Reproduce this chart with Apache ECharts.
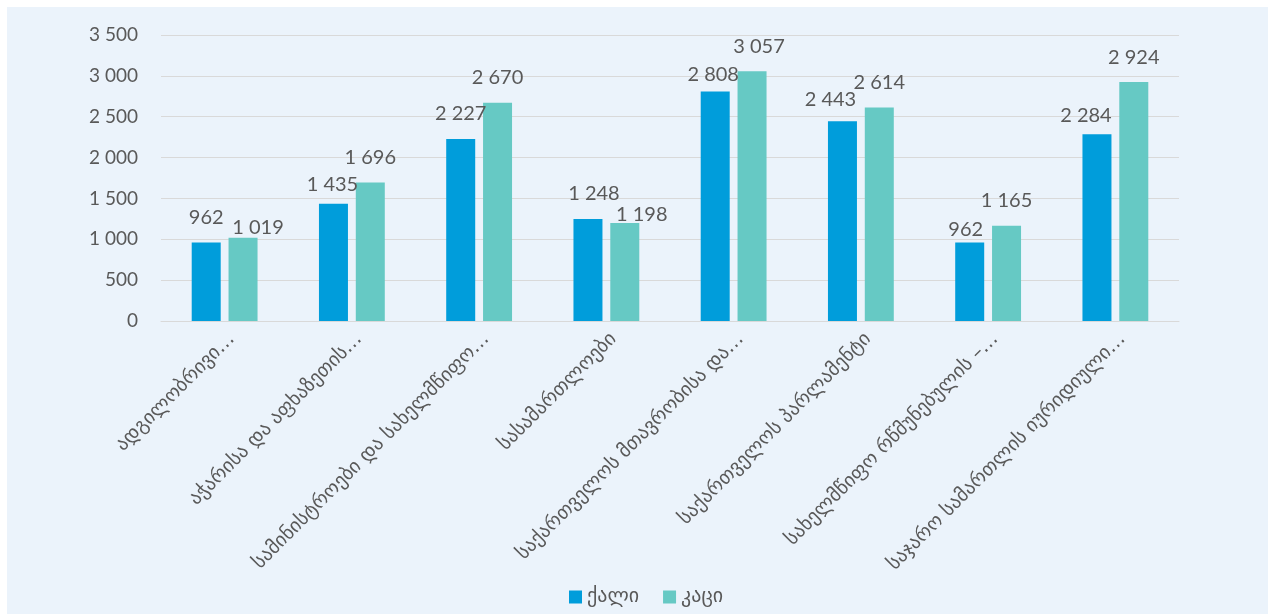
<!DOCTYPE html>
<html><head><meta charset="utf-8">
<script src="https://cdn.jsdelivr.net/npm/echarts@6/dist/echarts.min.js"></script>
<style>
html,body{margin:0;padding:0;background:#fff;}
#bg{position:absolute;left:7px;top:7px;width:1261px;height:607px;background:#EBF3FB;}
#c{position:absolute;left:0;top:0;width:1268px;height:614px;}
</style></head>
<body><div id="bg"></div><div id="c"></div>
<script>
const categories = ["ადგილობრივი…","აჭარისა და აფხაზეთის…","სამინისტროები და სახელმწიფო…","სასამართლოები","საქართველოს მთავრობისა და…","საქართველოს პარლამენტი","სახელმწიფო რწმუნებულის –…","საჯარო სამართლის იურიდიული…"];
const women = [962,1435,2227,1248,2808,2443,962,2284];
const men = [1019,1696,2670,1198,3057,2614,1165,2924];
const seriesNames = ["ქალი","კაცი"];
// manual label nudges (as in the source chart), [dx, dy] in px
const womenLabelNudge = [[0,0],[-1,6],[0,0],[6,0],[-2,8],[-12,3],[-4,12],[-11,6]];
const menLabelNudge = [[15,15],[0,0],[0,0],[17,16],[7,0],[0,0],[0,0],[0,0]];
const fmt = v => String(v).replace(/\B(?=(\d{3})+(?!\d))/g,' ');
const font = "Lato,'DejaVu Sans',sans-serif";
const withNudge = (vals, nudges) => vals.map((v,i)=>({value:v,label:{offset:nudges[i]}}));
const chart = echarts.init(document.getElementById('c'));
chart.setOption({
  backgroundColor:'transparent',
  textStyle:{fontFamily:font},
  grid:{left:161,right:89,top:35,bottom:293,containLabel:false},
  legend:{bottom:2,left:564,itemWidth:13,itemHeight:13,itemGap:24,icon:'rect',
    textStyle:{fontSize:20,color:'#595959',fontFamily:"'DejaVu Sans',sans-serif"},data:seriesNames},
  xAxis:{type:'category',data:categories,
    axisLine:{lineStyle:{color:'#D9D9D9'}},axisTick:{show:false},
    axisLabel:{rotate:45,fontSize:19.5,color:'#595959',interval:0,margin:8,verticalAlign:'top',fontFamily:"'DejaVu Sans',sans-serif"}},
  yAxis:{type:'value',min:0,max:3500,interval:500,
    axisLine:{show:false},axisTick:{show:false},
    splitLine:{lineStyle:{color:'#D9D9D9'}},
    axisLabel:{fontSize:19,color:'#595959',margin:23,formatter:fmt}},
  series:[
    {name:seriesNames[0],type:'bar',data:withNudge(women,womenLabelNudge),barWidth:29,barGap:'27%',
     itemStyle:{color:'#009DDB'},
     label:{show:true,position:'top',distance:15,fontSize:20,color:'#595959',formatter:p=>fmt(p.value)}},
    {name:seriesNames[1],type:'bar',data:withNudge(men,menLabelNudge),barWidth:29,
     itemStyle:{color:'#66C9C4'},
     label:{show:true,position:'top',distance:15,fontSize:20,color:'#595959',formatter:p=>fmt(p.value)}}
  ]
});
</script></body></html>
